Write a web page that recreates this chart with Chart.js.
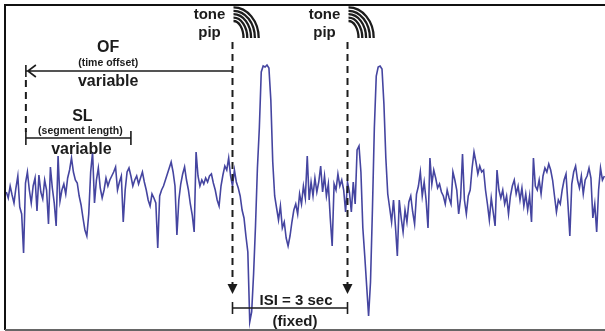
<!DOCTYPE html>
<html>
<head>
<meta charset="utf-8">
<script src="https://cdn.jsdelivr.net/npm/chart.js@4"></script>
<style>
  html, body { margin: 0; padding: 0; background: #fff; }
  #wrap { width: 605px; height: 331px; position: relative; }
</style>
</head>
<body>
<div id="wrap"><canvas id="chart" width="605" height="331"></canvas></div>
<script>
// recording, sampled every 50 ms starting at 0.10 s (arbitrary amplitude units)
const sampleStart = 0.10;
const sampleStep = 0.05;
const traceValues = [
  -7, -13, -1, -10, -18, -3, 9, -22, -29, -68,
  2, 13, -5, -18, -1, 7, -26, 10, -7, -14,
  5, -5, -39, 18, -3, -18, -41, 29, -16, -5,
  1, -9, 7, 15, 27, 13, 5, 2, -11, -20,
  -33, -45, -51, -29, 13, 33, -18, 5, 17, -3,
  -13, -5, 7, -1, 5, 9, 13, 18, -5, 3,
  9, -37, -5, 13, 17, 9, -1, 5, 9, 1,
  7, 13, 3, -5, -15, -21, -9, -13, -18, -63,
  -11, -5, -1, 5, 11, 17, 23, 13, -1, -50,
  -15, 1, 11, 18, 5, -5, -19, -30, -47, 33,
  9, -1, 5, 1, 7, 3, 9, 11, 2, -5,
  -15, -21, -1, 10, 19, 15, 27, 9, -1, 15,
  3, -3, -11, -25, -33, -51, -67, -137, -127, -89,
  -41, 17, 57, 113, 119, 118, 120, 117, 85, 23,
  -11, -23, -35, -21, -43, -37, -53, -61, -51, -37,
  -25, -19, -29, -9, -19, -1, -13, 29, -15, 3,
  -11, 7, -7, 3, 19, -7, 9, -11, 1, -33,
  -61, 1, -5, 11, -1, 5, -5, -27, 3, -7,
  -27, 3, -19, 35, 39, 13, -43, -71, -101, -131,
  -97, -25, 57, 109, 118, 119, 116, 81, 27, -9,
  -23, -37, -15, -41, -71, -15, -33, -47, -25, -37,
  -17, -11, -27, -39, -9, -1, 13, -11, 3, -15,
  -43, 27, 1, 15, 7, -3, 1, -7, -11, -19,
  -5, -13, -19, 13, 5, -5, -29, -13, 31, -15,
  -29, -11, -5, 17, 33, 23, 11, 19, 13, 15,
  -5, -19, -35, -13, -27, -41, 15, -5, -13, -5,
  -19, -11, -29, -11, -1, 5, -9, -1, -15, -3,
  -21, -9, -25, -11, -37, 27, -1, -5, 5, -9,
  9, 17, 13, 21, 15, 5, -11, -27, -15, -19,
  -5, 5, 11, -19, -51, 1, 13, 19, 5, -3,
  9, -9, 5, 9, 17, 7, -33, -19, -47, -5,
  17, 5, 9
];

// timing of the protocol (seconds)
const toneTimes = [6, 9];
const offsetStart = 0.61;
const segmentEnd = 3.35;

const textColor = "#1c1c1c";

(() => {
  const points = traceValues.map((v, i) => ({ x: sampleStart + i * sampleStep, y: v }));

  function dashedLine(ctx, x, y0, y1) {
    ctx.save();
    ctx.strokeStyle = textColor;
    ctx.lineWidth = 2;
    ctx.setLineDash([7, 5]);
    ctx.beginPath();
    ctx.moveTo(x, y0);
    ctx.lineTo(x, y1);
    ctx.stroke();
    ctx.restore();
  }

  function arrowDown(ctx, x, top) {
    ctx.beginPath();
    ctx.moveTo(x - 5, top);
    ctx.lineTo(x + 5, top);
    ctx.lineTo(x, top + 10);
    ctx.closePath();
    ctx.fill();
  }

  function bracket(ctx, a, b, y, h) {
    ctx.beginPath();
    ctx.moveTo(a, y); ctx.lineTo(b, y);
    ctx.moveTo(a, y - h); ctx.lineTo(a, y + h);
    ctx.moveTo(b, y - h); ctx.lineTo(b, y + h);
    ctx.stroke();
  }

  function soundWaves(ctx, x, y) {
    ctx.save();
    ctx.lineWidth = 2.3;
    for (let k = 0; k < 5; k++) {
      ctx.beginPath();
      ctx.ellipse(x, y, 10 + k * 3.8, 17 + k * 3.4, 0, -Math.PI / 2, 0);
      ctx.stroke();
    }
    ctx.restore();
  }

  function label(ctx, text, x, y, size) {
    ctx.font = "bold " + size + "px 'Liberation Sans', Arial, sans-serif";
    ctx.fillText(text, x, y);
  }

  const annotations = {
    id: "annotations",
    beforeDraw(c) {
      const { ctx } = c;
      ctx.save();
      ctx.fillStyle = "#fff";
      ctx.fillRect(0, 0, c.width, c.height);
      ctx.restore();
    },
    afterDatasetsDraw(c) {
      const { ctx, scales: { x } } = c;
      const p1 = x.getPixelForValue(toneTimes[0]);
      const p2 = x.getPixelForValue(toneTimes[1]);
      const a = x.getPixelForValue(offsetStart);
      const b = x.getPixelForValue(segmentEnd);

      ctx.save();
      ctx.fillStyle = textColor;
      ctx.strokeStyle = textColor;
      ctx.textAlign = "center";
      ctx.textBaseline = "middle";

      // tone pip markers
      [p1, p2].forEach((p) => {
        dashedLine(ctx, p, 42, 286);
        arrowDown(ctx, p, 284);
        label(ctx, "tone", p - 23, 15, 15);
        label(ctx, "pip", p - 23, 33, 15);
        soundWaves(ctx, p + 1, 38);
      });

      // OF arrow
      ctx.lineWidth = 1.6;
      ctx.beginPath();
      ctx.moveTo(a, 71); ctx.lineTo(p1, 71);
      ctx.moveTo(a, 65); ctx.lineTo(a, 77);
      ctx.moveTo(a + 10, 65); ctx.lineTo(a + 2, 71); ctx.lineTo(a + 10, 77);
      ctx.stroke();
      const ofMid = (a + p1) / 2 - 21;
      label(ctx, "OF", ofMid, 48, 16);
      label(ctx, "(time offset)", ofMid, 63, 10.5);
      label(ctx, "variable", ofMid, 82, 16);

      dashedLine(ctx, a, 80, 132);

      // SL bracket
      ctx.lineWidth = 1.6;
      bracket(ctx, a, b, 138, 7);
      const slMid = (a + b) / 2;
      label(ctx, "SL", slMid + 4, 117, 16);
      label(ctx, "(segment length)", slMid + 2, 131, 10.5);
      label(ctx, "variable", slMid + 3, 150, 16);

      // ISI bracket
      bracket(ctx, p1, p2, 308, 6);
      label(ctx, "ISI = 3 sec", (p1 + p2) / 2 + 6, 301, 15);
      label(ctx, "(fixed)", (p1 + p2) / 2 + 5, 322, 15);

      // frame
      ctx.lineWidth = 2;
      ctx.strokeStyle = "#111";
      ctx.beginPath();
      ctx.moveTo(605, 5); ctx.lineTo(5, 5); ctx.lineTo(5, 330);
      ctx.stroke();
      ctx.strokeStyle = "#666";
      ctx.beginPath();
      ctx.moveTo(5, 330); ctx.lineTo(605, 330);
      ctx.stroke();
      ctx.restore();
    }
  };

  new Chart(document.getElementById("chart"), {
    type: "line",
    data: {
      datasets: [{
        label: "trace",
        data: points,
        borderColor: "#4545a0",
        borderWidth: 1.6,
        pointRadius: 0,
        tension: 0,
        fill: false
      }]
    },
    options: {
      responsive: false,
      animation: false,
      devicePixelRatio: 1,
      layout: { padding: 0 },
      plugins: { legend: { display: false }, tooltip: { enabled: false } },
      scales: {
        x: { type: "linear", display: false, min: -0.065, max: 15.717 },
        y: { display: false, min: -146, max: 185 }
      }
    },
    plugins: [annotations]
  });
})();
</script>
</body>
</html>
